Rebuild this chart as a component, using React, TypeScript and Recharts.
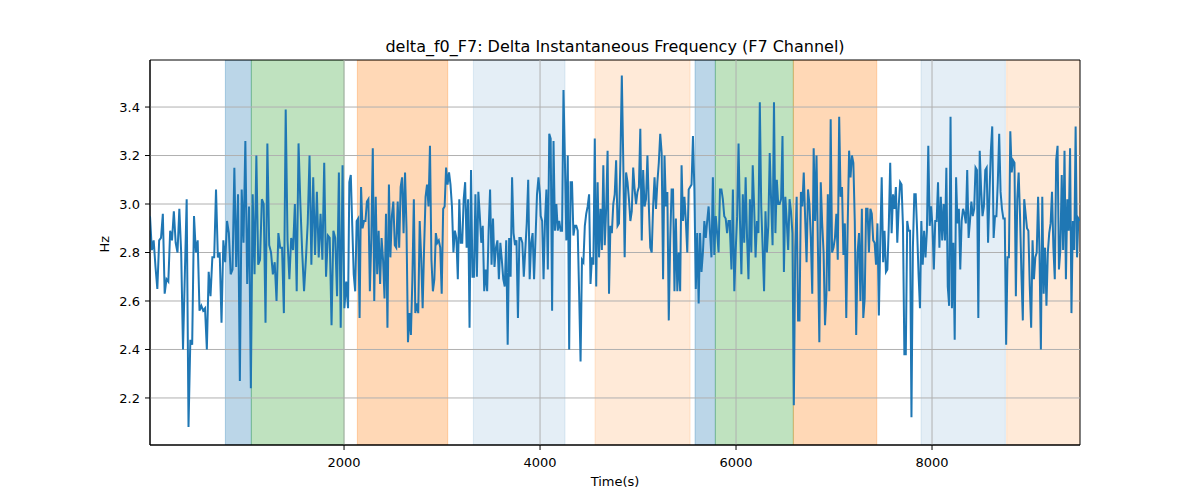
import React from 'react';
import { LineChart, Line, XAxis, YAxis, ReferenceArea, ReferenceLine } from 'recharts';

// each stretch of the trace is sampled evenly between its start and end time
const SEG1_T = [20, 2041];
const SEG1 = [
  2.95, 2.81, 2.85, 2.74, 2.65, 2.85, 2.86, 2.96, 2.63, 2.69,
  2.68, 2.89, 2.85, 2.97, 2.84, 2.8, 2.98, 2.8, 2.4, 2.71,
  3.02, 2.08, 2.44, 2.42, 2.95, 2.8, 2.85, 2.56, 2.58, 2.56,
  2.57, 2.4, 2.72, 2.62, 2.78, 2.78, 3.06, 2.78, 2.8, 2.51,
  2.85, 2.76, 2.93, 2.88, 2.71, 2.73, 3.15, 2.74, 3.04, 2.27,
  3.06, 2.84, 3.26, 2.67, 2.99, 2.24, 3.04, 2.71, 3.2, 2.75,
  2.77, 3.02, 3.0, 2.51, 3.25, 2.83, 2.8, 2.71, 2.76, 2.6,
  2.88, 2.82, 2.82, 2.55, 3.39, 2.85, 2.69, 2.86, 2.81, 3.0,
  2.64, 3.25, 3.0, 2.8, 2.64, 2.77, 2.92, 3.2, 2.75, 3.11,
  2.79, 3.05, 2.78, 2.96, 2.77, 3.17, 2.7, 2.87, 2.86, 2.5,
  2.89, 2.86, 2.62, 3.13, 2.49, 3.16, 2.57, 2.68, 2.57,
];

const SEG2_T = [2054, 3999];
const SEG2 = [
  3.09, 3.12, 2.91, 2.71, 2.64, 2.93, 2.94, 2.53, 3.07, 2.9,
  2.93, 2.93, 3.01, 3.02, 2.64, 2.86, 3.23, 2.6, 3.03, 2.71,
  2.89, 2.67, 2.86, 2.77, 2.61, 2.96, 2.49, 3.08, 2.78, 2.95,
  3.01, 2.83, 2.82, 3.01, 2.82, 3.07, 3.11, 2.88, 3.13, 2.9,
  2.43, 2.55, 2.46, 2.69, 3.02, 2.55, 2.59, 2.55, 2.93, 2.78,
  2.57, 2.82, 3.03, 3.08, 2.99, 3.24, 2.77, 2.64, 2.69, 2.88,
  2.84, 2.85, 2.82, 2.63, 2.98, 2.99, 3.15, 3.08, 3.13, 3.08,
  2.99, 2.8, 2.89, 2.86, 2.69, 3.02, 2.84, 2.84, 3.02, 3.09,
  2.82, 3.02, 2.49, 3.14, 2.7, 2.7, 3.04, 2.7, 3.05, 2.95,
  2.84, 2.91, 2.64, 2.73, 2.64, 2.89, 3.06, 2.75, 2.94, 2.74,
  2.82, 2.85, 2.69, 2.84, 2.77, 2.69, 2.66, 2.85, 2.42, 2.86,
  2.7, 3.11, 2.88, 2.83, 2.85, 2.53, 2.86, 2.86, 2.84, 2.7,
  2.81, 2.92, 3.1, 2.69, 2.84, 2.88, 2.69, 2.86, 3.04, 3.11, 3.04,
];

const SEG3_T = [4007, 5938];
const SEG3 = [
  2.95, 2.93, 2.69, 2.93, 3.06, 2.73, 3.29, 3.27, 2.56, 3.26,
  2.89, 3.0, 2.89, 2.93, 2.89, 2.89, 3.47, 3.18, 2.85, 3.2,
  2.4, 3.09, 3.09, 2.87, 2.91, 2.91, 2.89, 2.63, 2.35, 2.77,
  2.76, 2.91, 2.96, 2.99, 3.04, 2.67, 2.78, 2.75, 3.27, 2.66,
  3.09, 2.78, 2.98, 2.81, 3.16, 2.83, 2.98, 3.22, 2.63, 2.91,
  2.88, 3.0, 3.04, 3.18, 2.91, 2.92, 3.18, 3.53, 3.18, 2.78,
  3.13, 3.09, 3.02, 2.93, 2.97, 3.15, 3.06, 3.0, 3.05, 3.07,
  3.31, 2.85, 3.14, 2.99, 3.02, 3.2, 2.99, 2.82, 2.8, 2.99,
  3.11, 2.98, 3.09, 3.17, 3.29, 3.21, 2.69, 3.2, 2.99, 3.05,
  2.52, 2.85, 3.06, 3.06, 2.64, 2.94, 2.64, 2.8, 2.64, 3.16,
  2.93, 3.03, 2.93, 2.8, 3.06, 3.07, 3.08, 3.28, 3.06, 2.65,
  2.88, 2.59, 2.88, 2.72, 2.8, 2.93, 2.86, 2.93, 2.99, 2.88,
  2.78, 3.11, 2.79, 2.95, 2.88, 2.8, 3.06, 3.06, 3.02, 2.95,
  2.94, 2.88, 2.93, 2.93,
];

const SEG4_T = [5939, 7877];
const SEG4 = [
  2.88, 2.73, 3.06, 2.64, 2.81, 2.95, 3.25, 2.93, 2.71, 3.04,
  2.84, 3.11, 2.86, 2.69, 3.02, 2.8, 3.16, 2.99, 2.78, 2.93,
  2.88, 3.42, 2.99, 2.82, 2.64, 2.97, 2.8, 2.91, 3.21, 3.01,
  2.83, 3.42, 2.88, 3.1, 3.0, 3.0, 3.02, 3.28, 2.72, 3.03,
  2.93, 2.81, 3.02, 2.97, 2.88, 2.17, 2.82, 3.03, 2.52, 2.52,
  3.05, 2.99, 3.13, 2.94, 2.76, 3.06, 3.0, 2.86, 2.63, 3.23,
  2.93, 3.2, 2.82, 2.43, 3.09, 2.92, 2.8, 2.5, 2.63, 3.04,
  2.64, 3.35, 2.8, 2.82, 2.86, 2.96, 2.77, 3.36, 3.03, 3.07,
  2.79, 2.92, 2.53, 2.91, 3.22, 3.11, 3.2, 3.17, 2.93, 2.46,
  2.8, 2.88, 2.6, 2.98, 2.53, 2.61, 2.98, 2.98, 2.8, 2.98,
  2.96, 2.85, 2.84, 2.75, 2.92, 2.54, 2.85, 3.11, 2.76, 2.89,
  2.72, 2.73, 2.91, 3.17, 2.88, 3.04, 2.98, 3.07, 2.84, 2.99,
  3.09, 3.08, 2.91, 2.38, 2.38, 2.93, 2.89, 2.89, 2.12, 2.82,
  3.04, 3.04, 2.89, 2.71, 2.57,
];

const SEG5_T = [7891, 9508];
const SEG5 = [
  2.93, 2.75, 2.89, 2.78, 2.89, 3.24, 2.91, 2.99, 2.91, 2.73,
  2.93, 2.93, 3.09, 2.82, 3.03, 2.85, 3.0, 2.85, 3.15, 2.66,
  2.58, 3.36, 2.57, 2.84, 2.44, 3.11, 2.92, 2.98, 2.73, 2.93,
  2.98, 2.96, 2.92, 3.14, 2.86, 2.93, 3.01, 2.95, 2.98, 3.15,
  3.14, 2.53, 3.22, 3.06, 2.95, 2.99, 3.14, 3.15, 2.84, 3.04,
  3.22, 3.32, 2.86, 2.95, 2.95, 3.09, 3.29, 3.05, 2.98, 2.94,
  2.94, 2.42, 2.78, 2.78, 3.3, 3.13, 3.18, 3.17, 2.62, 3.02,
  3.13, 2.95, 2.71, 2.52, 3.02, 2.96, 2.9, 2.89, 2.66, 2.49,
  2.85, 2.69, 2.78, 2.8, 3.03, 2.8, 2.4, 3.03, 2.63, 2.82,
  2.58, 2.8, 2.88, 2.92, 3.05, 2.82, 2.69, 3.18, 3.24, 2.73,
  2.81, 3.12, 2.81, 3.22, 2.69, 3.02, 2.89, 3.23, 2.55, 2.93,
  2.81, 3.32, 2.78, 2.94, 2.93,
];

// shaded spans: [start, end, colour, opacity]
const SPANS: [number, number, string, number][] = [
  [789, 1054, '#1f77b4', 0.3],
  [1054, 2000, '#2ca02c', 0.3],
  [2136, 3058, '#ff7f0e', 0.3],
  [3320, 4255, '#1f77b4', 0.12],
  [4561, 5531, '#ff7f0e', 0.16],
  [5582, 5789, '#1f77b4', 0.3],
  [5789, 6585, '#2ca02c', 0.3],
  [6585, 7436, '#ff7f0e', 0.3],
  [7888, 8748, '#1f77b4', 0.12],
  [8762, 9510, '#ff7f0e', 0.16],
];

const X_TICKS = [2000, 4000, 6000, 8000];
const Y_TICKS = [2.2, 2.4, 2.6, 2.8, 3.0, 3.2, 3.4];
const X_DOMAIN = [20, 9510];
const Y_DOMAIN = [2.006, 3.594];

function spread(range: number[], vals: number[]) {
  return vals.map((v, i) => ({ t: range[0] + ((range[1] - range[0]) * i) / (vals.length - 1), v }));
}

const data = [
  ...spread(SEG1_T, SEG1),
  ...spread(SEG2_T, SEG2),
  ...spread(SEG3_T, SEG3),
  ...spread(SEG4_T, SEG4),
  ...spread(SEG5_T, SEG5),
];

const font = 'DejaVu Sans, sans-serif';
const tickStyle = { fill: '#000', fontSize: 13, fontFamily: font };

export default function App() {
  return (
    <div style={{ position: 'absolute', left: 0, top: 0, width: 1200, height: 500, background: '#fff' }}>
      <div
        style={{
          position: 'absolute',
          top: 37,
          left: 150,
          width: 930,
          textAlign: 'center',
          fontFamily: font,
          fontSize: 16,
          color: '#000',
        }}
      >
        delta_f0_F7: Delta Instantaneous Frequency (F7 Channel)
      </div>
      <LineChart width={1200} height={500} data={data} margin={{ top: 60, right: 120, bottom: 25, left: 100 }}>
        <XAxis
          dataKey="t"
          type="number"
          domain={X_DOMAIN}
          ticks={X_TICKS}
          allowDataOverflow
          height={30}
          tick={tickStyle}
          tickSize={5}
          tickMargin={8}
          tickLine={{ stroke: '#000' }}
          axisLine={{ stroke: '#000' }}
          label={{ value: 'Time(s)', position: 'insideBottom', offset: -11, fill: '#000', fontSize: 13, fontFamily: font }}
        />
        <YAxis
          type="number"
          domain={Y_DOMAIN}
          ticks={Y_TICKS}
          allowDataOverflow
          width={50}
          tick={tickStyle}
          tickSize={5}
          tickMargin={5}
          tickLine={{ stroke: '#000' }}
          axisLine={{ stroke: '#000' }}
          tickFormatter={(v) => Number(v).toFixed(1)}
          label={{ value: 'Hz', angle: -90, position: 'insideLeft', offset: 0, dx: 4, fill: '#000', fontSize: 13, fontFamily: font }}
        />
        {SPANS.map(([a, b, c, o], i) => (
          <ReferenceArea key={i} x1={a} x2={b} fill={c} fillOpacity={o} stroke={c} strokeOpacity={o} ifOverflow="hidden" />
        ))}
        {X_TICKS.map((x) => (
          <ReferenceLine key={'gx' + x} x={x} stroke="#b0b0b0" strokeWidth={1} />
        ))}
        {Y_TICKS.map((y) => (
          <ReferenceLine key={'gy' + y} y={y} stroke="#b0b0b0" strokeWidth={1} />
        ))}
        <Line
          type="linear"
          dataKey="v"
          stroke="#1f77b4"
          strokeWidth={2}
          dot={false}
          isAnimationActive={false}
        />
        <ReferenceArea x1={X_DOMAIN[0]} x2={X_DOMAIN[1]} y1={Y_DOMAIN[0]} y2={Y_DOMAIN[1]} fill="none" stroke="#000" strokeWidth={1} />
      </LineChart>
    </div>
  );
}
